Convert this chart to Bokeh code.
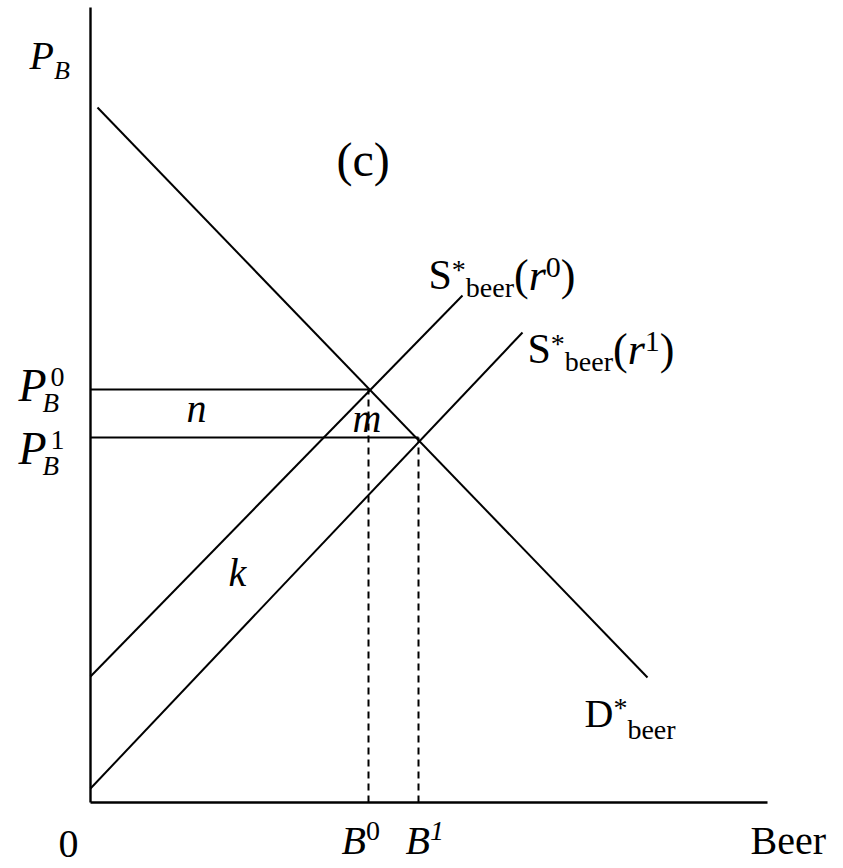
from bokeh.plotting import figure
from bokeh.models import Label, Range1d
from bokeh.embed import file_html
from bokeh.resources import INLINE

# ---------------- data (economic units) ----------------
demand_q = [0.7, 55.7]
demand_p = [69.5, 12.5]
supply0_q = [0.0, 37.2]
supply0_p = [12.6, 50.7]
supply1_q = [0.0, 43.2]
supply1_p = [1.4, 47.0]
eq_quantity = [27.8, 32.8]   # B0, B1
eq_price = [41.3, 36.5]      # P0, P1
axis_q_max = 67.7
axis_p_max = 79.5

# ---------------- layout ----------------
PX = 10.0           # pixels per unit
W, H = 843, 868
OX, OY = 90, 802    # origin position inside the figure (px from left / top)

p = figure(width=W, height=H, output_backend="svg", toolbar_location=None,
           x_range=Range1d(-OX / PX, (W - OX) / PX),
           y_range=Range1d(-(H - OY) / PX, OY / PX),
           x_axis_location=None, y_axis_location=None, min_border=0)
p.grid.visible = False
p.outline_line_color = None
p.background_fill_color = "white"
p.border_fill_color = "white"

LW = 2
# axes
p.segment(x0=[0, 0], y0=[0, 0], x1=[axis_q_max, 0], y1=[0, axis_p_max],
          line_color="black", line_width=2.4)
# curves
p.line(demand_q, demand_p, line_color="black", line_width=LW)
p.line(supply0_q, supply0_p, line_color="black", line_width=LW)
p.line(supply1_q, supply1_p, line_color="black", line_width=LW)
# price lines
p.segment(x0=[0, 0], y0=eq_price, x1=eq_quantity, y1=eq_price,
          line_color="black", line_width=LW)
# dashed quantity lines
p.segment(x0=eq_quantity, y0=[0, 0], x1=eq_quantity, y1=eq_price,
          line_color="black", line_width=LW, line_dash="7 5")

SERIF = "Liberation Serif"
REG = {'S': .556, 'D': .722, 'B': .667, 'b': .5, 'e': .444, 'r': .333, '(': .333,
       ')': .333, '*': .5, '0': .5, '1': .5, 'c': .444}
ITA = {'P': .611, 'B': .611, 'r': .389, 'n': .5, 'm': .722, 'k': .444, '1': .5, '0': .5}
BASE_FIX = 0.38   # renderer places the alphabetic baseline lower by ~0.38 em


def width(text, size, italic):
    tab = ITA if italic else REG
    return sum(tab.get(ch, .5) for ch in text) * size


def runs(x, y, parts, xo=0, yo=0):
    cx = xo
    for text, size, italic, dy in parts:
        p.add_layout(Label(x=x, y=y, x_offset=cx, y_offset=yo + dy + BASE_FIX * size,
                           text=text, text_font=SERIF, text_font_size=f"{size}px",
                           text_font_style="italic" if italic else "normal",
                           text_baseline="alphabetic", text_align="left",
                           text_color="black"))
        cx += width(text, size, italic)


BIG, SMALL = 40, 28

# axis labels
runs(0, axis_p_max, [("P", BIG, True, 0), ("B", 26, True, -10)], xo=-61, yo=-63)
runs(0, 0, [("0", BIG, False, 0)], xo=-32, yo=-57)
runs(axis_q_max, 0, [("Beer", BIG, False, 0)], xo=-17, yo=-53)
runs(eq_quantity[0], 0, [("B", BIG, True, 0), ("0", SMALL, False, 14)], xo=-27, yo=-53)
runs(eq_quantity[1], 0, [("B", BIG, True, 0), ("1", SMALL, True, 14)], xo=-13, yo=-53)

# price labels
for pr, sup in zip(eq_price, ["0", "1"]):
    yo = -13 if sup == "0" else -28
    runs(0, pr, [("P", 46, True, 0)], xo=-72, yo=yo)
    runs(0, pr, [("B", 27, True, -11)], xo=-48, yo=yo)
    runs(0, pr, [(sup, SMALL, False, 15)], xo=-40, yo=yo)

# title
runs(0, axis_p_max, [("(c)", 48, False, 0)], xo=246, yo=-170)

# area labels
runs(0, eq_price[0], [("n", BIG, True, 0)], xo=96, yo=-34)
runs(eq_quantity[0], eq_price[0], [("m", BIG, True, 0)], xo=-16, yo=-44)
runs(0, 0, [("k", BIG, True, 0)], xo=138, yo=215)

# curve labels
for q, pr, sup, xo, yo in [(supply0_q[1], supply0_p[1], "0", -34, 5),
                           (supply1_q[1], supply1_p[1], "1", 5, -32)]:
    runs(q, pr, [("S", 42, False, 0), ("*", SMALL, False, 10), ("beer", SMALL, False, -8),
                 ("(", 44, False, -2), ("r", 44, True, -2), (sup, 30, False, 12),
                 (")", 44, False, -2)], xo=xo, yo=yo)

runs(demand_q[1], demand_p[1], [("D", BIG, False, 0), ("*", SMALL, False, 10),
                                ("beer", SMALL, False, -12)], xo=-63, yo=-51)

open("out.html", "w").write(file_html(p, INLINE))
